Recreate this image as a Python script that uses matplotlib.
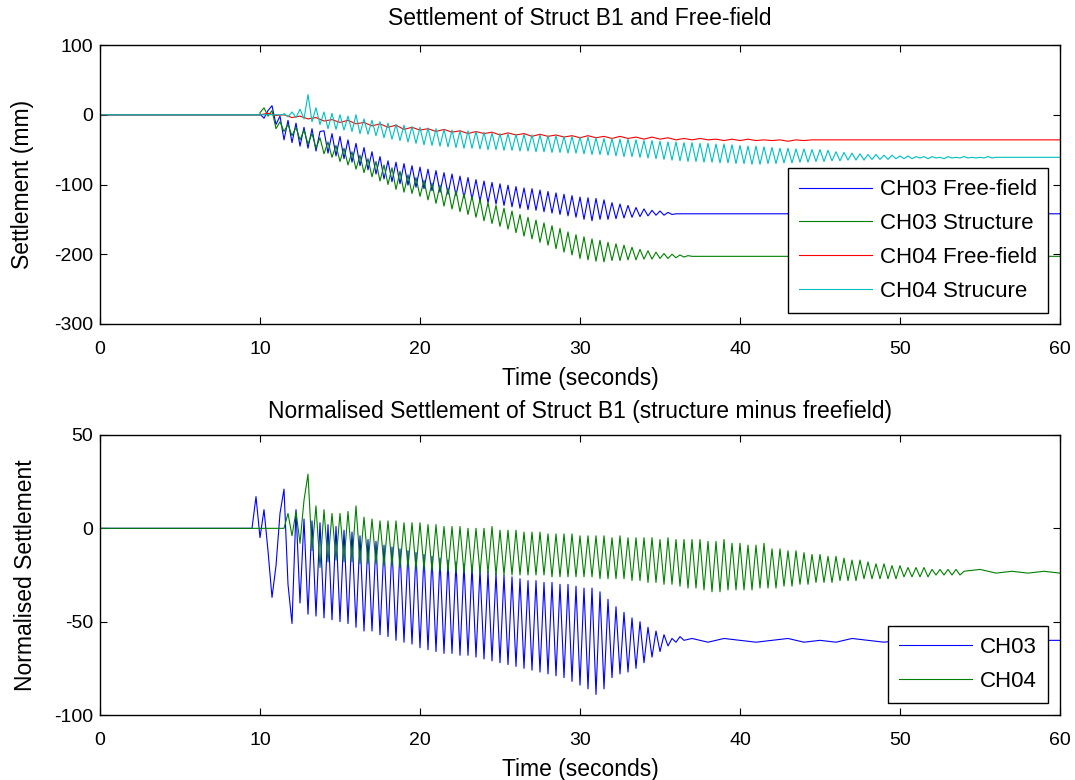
import numpy as np
import matplotlib
matplotlib.use("Agg")
import matplotlib.pyplot as plt

plt.rcParams['font.family'] = ['Liberation Sans', 'DejaVu Sans']
plt.rcParams['axes.unicode_minus'] = False

STEP = 0.25  # seconds between read-off extremes
T_END = 60

# ---- top panel: raw settlement (mm), extremes read every 0.25 s ----
ff03_start = 10.0
ff03 = [1, -5, 6, 13, -14, -2, -36, -8, -40, -12, -45, -18, -48, -20, -52, -24,
        -23, -55, -27, -59, -31, -63, -36, -68, -41, -73, -47, -79, -53, -85, -60, -92,
        -66, -96, -68, -99, -70, -101, -73, -104, -75, -106, -78, -109, -80, -111, -83, -114,
        -85, -116, -88, -119, -90, -121, -93, -124, -95, -126, -97, -128, -99, -130, -101, -132,
        -103, -134, -105, -136, -106, -137, -108, -139, -110, -141, -112, -143, -114, -145, -116, -147,
        -118, -150, -119, -152, -120, -150, -122, -150, -126, -149, -128, -148, -130, -147, -133, -146,
        -135, -145, -137, -144, -138, -144, -140, -143, -142]

st03_start = 10.0
st03 = [3, 10, -2, 6, -20, -10, -24, -14, -30, -18, -36, -22, -42, -27, -48, -33,
        -56, -39, -61, -44, -67, -48, -72, -53, -78, -58, -83, -63, -89, -67, -95, -72,
        -100, -76, -107, -81, -111, -86, -113, -90, -117, -94, -122, -98, -127, -101, -131, -105,
        -135, -109, -139, -113, -143, -117, -147, -121, -152, -126, -156, -130, -160, -134, -164, -138,
        -169, -143, -174, -147, -178, -151, -183, -155, -187, -159, -192, -163, -197, -168, -201, -172,
        -206, -175, -208, -178, -210, -180, -211, -183, -209, -185, -209, -187, -208, -190, -208, -193,
        -207, -195, -207, -197, -206, -199, -206, -200, -205, -201, -204, -202, -203]

ff04_start = 10.0
ff04_step = 0.5
ff04 = [0, 2, -1, 0, -4, -2, -6, -4, -9, -7, -11, -8, -13, -11, -16, -13,
        -18, -15, -21, -18, -22, -20, -24, -21, -25, -23, -27, -24, -27, -25, -29, -26,
        -29, -27, -31, -28, -31, -29, -32, -30, -33, -30, -33, -31, -34, -31, -34, -32,
        -35, -32, -35, -33, -36, -34, -36, -34, -36, -35, -37, -35, -37, -35, -37, -36,
        -37, -36, -38, -36, -37, -36, -36]

st04_start = 11.5
st04 = [2, -3, 4, -4, 8, -6, 29, -10, 10, -14, 4, -20, 2, -21, 0, -22,
        -2, -24, 0, -27, -6, -28, -8, -30, -10, -33, -12, -35, -14, -37, -15, -39,
        -17, -41, -18, -43, -19, -44, -20, -45, -21, -46, -22, -47, -23, -48, -23, -48,
        -24, -49, -25, -50, -26, -50, -27, -51, -27, -51, -28, -52, -28, -52, -29, -53,
        -29, -53, -30, -54, -30, -54, -31, -55, -31, -55, -32, -56, -32, -57, -33, -57,
        -34, -58, -34, -59, -35, -60, -35, -60, -36, -61, -37, -62, -37, -63, -38, -64,
        -39, -65, -39, -66, -40, -67, -40, -67, -41, -68, -41, -68, -42, -69, -42, -69,
        -43, -70, -44, -70, -45, -71, -45, -71, -46, -70, -47, -70, -48, -69, -48, -69,
        -49, -68, -49, -68, -50, -67, -50, -67, -51, -66, -53, -66, -54, -65, -55, -65,
        -56, -65, -57, -64, -57, -64, -58, -64, -58, -63, -59, -63, -59, -63, -60, -62,
        -60, -63, -60, -62, -61, -63, -60, -62, -61, -62, -60, -62, -61, -62, -61, -62,
        -60, -62, -61]

# ---- bottom panel: structure minus free-field (mm) ----
n03_start = 9.5
n03 = [0, 17, -5, 10, -12, -37, -20, 8, 21, -30, -51, 10, -40, 5, -46, 4,
       -47, 3, -48, 2, -49, 1, -50, -1, -51, -2, -53, -4, -55, -6, -55, -7,
       -57, -9, -58, -10, -60, -11, -61, -12, -62, -13, -64, -14, -65, -15, -66, -16,
       -67, -17, -67, -18, -68, -19, -68, -20, -69, -22, -70, -23, -71, -24, -72, -25,
       -73, -26, -74, -27, -75, -28, -76, -28, -77, -29, -78, -29, -79, -30, -80, -30,
       -82, -31, -84, -32, -86, -32, -89, -34, -86, -38, -80, -42, -78, -45, -77, -48,
       -75, -50, -72, -53, -69, -55, -66, -57, -63, -59, -61, -58, -60]
n03_tail = [-59, -61, -59, -60, -61, -60, -59, -61, -60, -61, -59, -60,
            -61, -60, -59, -60, -61, -60, -59, -60, -61, -60, -60, -60]  # 37..60 s

n04_start = 11.5
n04 = [0, 8, -4, 9, -8, 15, 29, -12, 12, -21, 10, -18, 8, -17, 8, -18,
       9, -18, 12, -19, 6, -19, 5, -19, 4, -20, 4, -20, 4, -21, 3, -21,
       3, -22, 3, -22, 2, -23, 2, -23, 1, -23, 1, -24, 1, -24, 0, -24,
       0, -24, 0, -24, 1, -25, -1, -25, -1, -25, -1, -25, -2, -25, -2, -25,
       -2, -25, -3, -26, -3, -26, -3, -26, -3, -26, -4, -26, -4, -26, -4, -27,
       -4, -27, -5, -27, -4, -27, -5, -28, -5, -28, -5, -29, -5, -29, -6, -30,
       -5, -30, -6, -31, -6, -32, -6, -32, -6, -33, -7, -34, -7, -34, -6, -33,
       -8, -33, -8, -33, -9, -33, -9, -32, -8, -32, -11, -32, -11, -31, -12, -31,
       -12, -30, -13, -30, -14, -29, -14, -29, -15, -29, -15, -28, -16, -28, -17, -28,
       -17, -27, -18, -27, -19, -27, -19, -27, -20, -27, -20, -26, -21, -26, -21, -26,
       -21, -26, -22, -25, -22, -25, -22, -25, -22, -25, -23]
n04_tail = [-22, -24, -23, -24, -23, -24]  # 55..60 s


def series(start, vals, step=STEP, tail=None):
    t = [0.0, start] + list(start + step * np.arange(len(vals)))
    y = [0.0, 0.0] + list(vals)
    if tail is not None:
        t_last = int(np.ceil(t[-1] + 1e-9))
        t += list(t_last + np.arange(len(tail)))
        y += list(tail)
    else:
        t.append(T_END)
        y.append(vals[-1])
    return np.array(t), np.array(y)


BLUE = (0, 0, 1)
GREEN = (0, 0.5, 0)
RED = (1, 0, 0)
CYAN = (0, 0.75, 0.75)
LW = 0.8
TXT = 16.5


def style_axes(ax):
    ax.set_xlim(0, 60)
    ax.set_xticks(range(0, 61, 10))
    ax.tick_params(direction='in', top=True, right=True, length=5, width=0.8,
                   labelsize=14)
    ax.tick_params(axis='x', pad=12)
    ax.tick_params(axis='y', pad=5)
    for s in ax.spines.values():
        s.set_linewidth(1.0)


def add_legend(ax, anchor):
    leg = ax.legend(loc='lower right', bbox_to_anchor=anchor, borderaxespad=0,
                    fontsize=16, fancybox=False, edgecolor='black', framealpha=1,
                    handlelength=3.3, handletextpad=0.35, labelspacing=0.58,
                    borderpad=0.5)
    leg.get_frame().set_linewidth(1.0)


fig = plt.figure(figsize=(10.75, 7.8), dpi=100)
ax1 = fig.add_axes([100 / 1075, 1 - 324 / 780, 960 / 1075, 279 / 780])
ax2 = fig.add_axes([100 / 1075, 1 - 715 / 780, 960 / 1075, 280 / 780])

ax1.plot(*series(ff03_start, ff03), color=BLUE, lw=LW, label='CH03 Free-field')
ax1.plot(*series(st03_start, st03), color=GREEN, lw=LW, label='CH03 Structure')
ax1.plot(*series(ff04_start, ff04, step=ff04_step), color=RED, lw=LW, label='CH04 Free-field')
ax1.plot(*series(st04_start, st04), color=CYAN, lw=LW, label='CH04 Strucure')
style_axes(ax1)
ax1.set_ylim(-300, 100)
ax1.set_yticks(range(-300, 101, 100))
ax1.set_title('Settlement of Struct B1 and Free-field', fontsize=TXT, pad=14.5)
ax1.set_xlabel('Time (seconds)', fontsize=TXT, labelpad=6.5)
ax1.set_ylabel('Settlement (mm)', fontsize=TXT)
ax1.yaxis.set_label_coords(-0.069, 0.5)
add_legend(ax1, (0.9875, 0.039))

ax2.plot(*series(n03_start, n03, tail=n03_tail), color=BLUE, lw=LW, label='CH03')
ax2.plot(*series(n04_start, n04, tail=n04_tail), color=GREEN, lw=LW, label='CH04')
style_axes(ax2)
ax2.set_ylim(-100, 50)
ax2.set_yticks(range(-100, 51, 50))
ax2.set_title('Normalised Settlement of Struct B1 (structure minus freefield)',
              fontsize=TXT, pad=12)
ax2.set_xlabel('Time (seconds)', fontsize=TXT, labelpad=6.5)
ax2.set_ylabel('Normalised Settlement', fontsize=TXT)
ax2.yaxis.set_label_coords(-0.066, 0.5)
add_legend(ax2, (0.9875, 0.043))

fig.savefig('out.png', dpi=100)
